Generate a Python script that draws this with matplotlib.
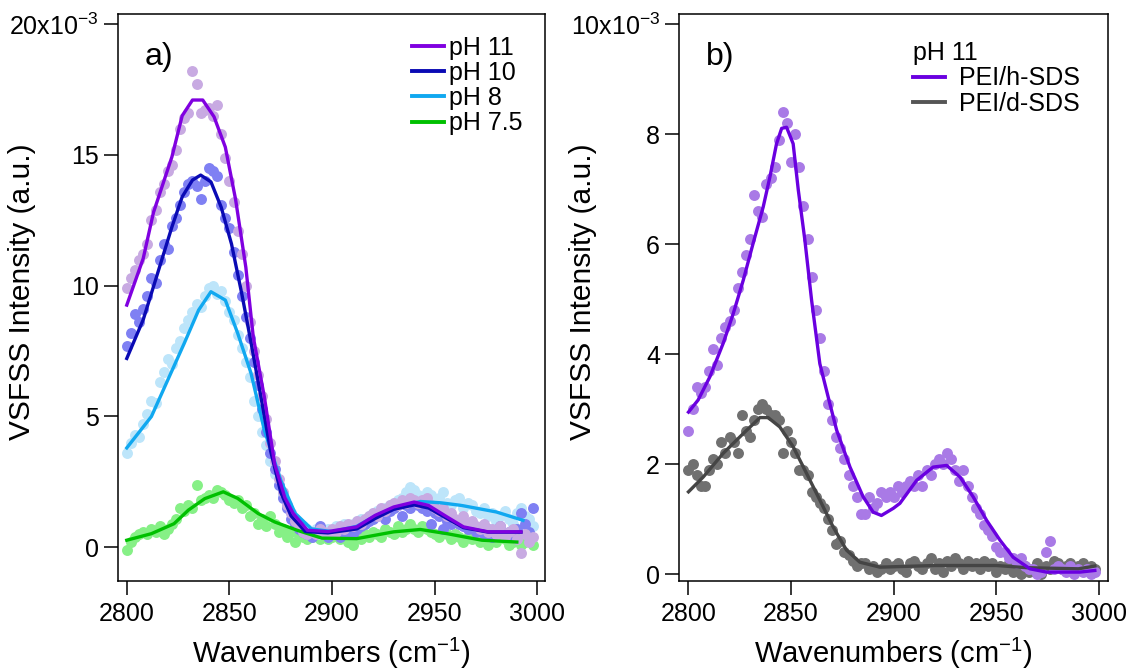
import matplotlib
matplotlib.use("Agg")
import matplotlib.pyplot as plt
import numpy as np
from matplotlib.ticker import FuncFormatter

plt.rcParams['font.family'] = ['Liberation Sans', 'DejaVu Sans']
plt.rcParams['mathtext.fontset'] = 'custom'
plt.rcParams['mathtext.rm'] = 'Liberation Sans'
plt.rcParams['mathtext.default'] = 'regular'

# intensities in units of 1e-3
wn = np.arange(2800, 3000, 2)

ph11_pts = [9.9, 10.3, 10.6, 11.0, 11.2, 11.6, 12.5, 12.9, 13.6, 13.9,
            14.4, 14.6, 15.2, 16.0, 16.4, 16.6, 18.2, 17.7, 16.6, 16.7,
            16.8, 16.5, 16.9, 15.8, 14.9, 14.0, 13.2, 12.1, 11.2, 10.0,
            8.6, 7.5, 6.6, 5.8, 4.9, 4.0, 3.3, 2.6, 2.1, 1.6,
            1.3, 1.0, 0.8, 0.6, 0.5, 0.6, 0.5, 0.7, 0.6, 0.5,
            0.7, 0.6, 0.8, 0.7, 0.9, 0.8, 1.0, 0.9, 1.1, 1.2,
            1.3, 1.2, 1.5, 1.4, 1.6, 1.7, 1.6, 1.8, 1.7, 1.9,
            1.8, 1.7, 1.8, 1.9, 1.6, 1.5, 1.4, 1.5, 1.2, 1.3,
            1.1, 1.0, 1.2, 0.9, 1.0, 0.8, 0.7, 0.9, 0.6, 0.7,
            0.5, 0.8, 0.4, 0.6, 0.7, 0.3, -0.2, 0.5, 0.2, 0.4]
ph10_pts = [7.7, 8.2, 8.9, 8.6, 9.1, 9.6, 10.3, 10.1, 11.0, 11.6,
            11.4, 12.3, 12.6, 13.1, 13.6, 13.9, 14.0, 13.8, 13.3, 14.0,
            14.5, 14.4, 14.2, 13.1, 12.6, 12.2, 11.3, 10.4, 9.6, 8.8,
            8.0, 7.1, 6.2, 5.3, 4.4, 3.6, 3.0, 2.4, 1.9, 1.5,
            1.1, 0.9, 0.7, 0.6, 0.5, 0.4, 0.6, 0.8, 0.5, 0.4,
            0.6, 0.5, 0.4, 0.7, 0.6, 0.5, 0.7, 0.8, 0.9, 1.0,
            1.1, 1.2, 1.3, 1.1, 1.4, 1.5, 1.6, 1.2, 1.6, 1.5,
            1.7, 1.6, 1.5, 1.4, 0.9, 1.3, 1.2, 0.7, 1.0, 0.9,
            1.0, 0.9, 0.8, 0.7, 0.8, 0.6, 0.7, 0.5, 0.7, 0.4,
            0.6, 0.8, 0.5, 0.6, 0.4, 0.7, 1.3, 0.9, 0.6, 1.5]
ph8_pts = [3.6, 4.0, 4.3, 4.2, 4.7, 5.1, 5.6, 5.5, 6.3, 6.7,
           7.2, 7.0, 7.6, 7.9, 8.4, 8.7, 9.0, 9.3, 9.2, 9.6,
           9.9, 10.0, 9.7, 9.8, 9.4, 9.0, 8.7, 8.1, 7.6, 7.1,
           6.5, 5.6, 5.0, 4.4, 3.9, 3.3, 2.8, 2.4, 2.0, 1.6,
           1.3, 1.1, 0.9, 0.8, 0.7, 0.6, 0.7, 0.5, 0.6, 0.7,
           0.6, 0.8, 0.7, 0.9, 0.8, 0.9, 1.0, 1.1, 1.0, 1.2,
           1.3, 1.4, 1.3, 1.5, 1.6, 1.7, 1.8, 1.9, 2.1, 2.3,
           2.2, 2.0, 1.9, 2.1, 2.0, 1.8, 1.9, 2.1, 1.7, 1.6,
           1.8, 1.9, 1.5, 1.7, 1.6, 1.4, 1.3, 1.5, 1.2, 1.3,
           1.0, 1.2, 1.4, 1.1, 0.9, 1.3, 1.5, 1.2, 1.1, 0.8]
ph75_pts = [-0.1, 0.2, 0.4, 0.5, 0.6, 0.5, 0.7, 0.6, 0.8, 0.5,
            0.7, 0.9, 1.1, 1.5, 1.4, 1.6, 1.5, 2.4, 1.8, 1.9,
            2.0, 1.9, 2.2, 2.1, 2.0, 1.8, 1.7, 1.8, 1.5, 1.6,
            1.2, 1.3, 0.9, 1.1, 0.8, 1.2, 0.9, 0.6, 0.7, 0.4,
            0.6, 0.2, 0.5, 0.4, 0.3, 0.4, 0.5, 0.3, 0.4, 0.3,
            0.4, 0.5, 0.3, 0.4, 0.2, 0.1, 0.4, 0.3, 0.5, 0.4,
            0.6, 0.5, 0.4, 0.7, 0.6, 0.5, 0.8, 0.6, 0.7, 0.9,
            0.7, 0.6, 0.8, 0.7, 0.6, 0.5, 0.4, 0.6, 0.5, 0.3,
            0.5, 0.4, 0.2, 0.4, 0.3, 0.4, 0.2, 0.3, 0.1, 0.3,
            0.2, 0.4, 0.3, 0.1, 0.2, 0.3, 0.1, 0.2, 0.3, 0.1]

# fitted curves, panel a
ph11_fx = [2800, 2808, 2813, 2822, 2827, 2832, 2837, 2842.5, 2848, 2853, 2858, 2861.6,
           2867, 2872, 2877, 2881, 2888, 2898, 2912, 2921, 2930, 2940, 2947, 2956, 2964, 2976, 2992]
ph11_fy = [9.26, 11.04, 12.8, 14.93, 16.5, 17.1, 17.1, 16.46, 15.3, 13.3, 10.7, 8.05,
           5.75, 3.2, 1.9, 1.3, 0.65, 0.6, 0.78, 1.22, 1.54, 1.73, 1.6, 1.16, 0.78, 0.59, 0.59]
ph10_fx = [2800, 2808, 2815, 2822, 2827, 2832, 2836, 2841, 2846, 2851, 2856, 2860, 2865,
           2870, 2875, 2880, 2887, 2898, 2912, 2921, 2930, 2940, 2947, 2956, 2964, 2976, 2992]
ph10_fy = [7.22, 8.7, 10.47, 12.25, 13.4, 14.04, 14.23, 13.97, 13.0, 11.6, 9.7, 8.05, 5.9,
           3.7, 2.1, 1.2, 0.6, 0.55, 0.7, 1.1, 1.45, 1.62, 1.5, 1.1, 0.75, 0.58, 0.58]
ph8_fx = [2800, 2805, 2812, 2820, 2828, 2835, 2841, 2848, 2854, 2860.5, 2867, 2875,
          2882, 2890, 2900, 2912, 2921, 2932, 2943, 2953, 2963, 2980, 2993]
ph8_fy = [3.8, 4.3, 5.0, 6.4, 7.8, 9.07, 9.77, 9.45, 8.19, 6.66, 4.48, 2.56,
          1.3, 0.7, 0.6, 0.8, 1.2, 1.55, 1.75, 1.7, 1.6, 1.35, 1.03]
ph75_fx = [2800, 2812, 2823, 2830, 2838, 2847, 2854, 2864, 2872, 2883, 2895, 2912,
           2930, 2943, 2956, 2973, 2990]
ph75_fy = [0.27, 0.52, 0.9, 1.42, 1.86, 2.12, 1.87, 1.29, 0.97, 0.65, 0.35, 0.33,
           0.59, 0.68, 0.52, 0.27, 0.2]

# panel b, pH 11
h_pts = [2.6, 3.0, 3.4, 3.3, 3.4, 3.7, 4.1, 3.8, 4.3, 4.5,
         4.6, 4.8, 5.2, 5.5, 5.8, 6.1, 6.9, 6.6, 6.5, 7.1,
         7.2, 7.4, 7.9, 8.4, 8.2, 7.5, 8.0, 7.4, 6.7, 6.1,
         5.4, 4.8, 4.3, 3.7, 3.1, 2.8, 2.5, 2.3, 2.1, 1.8,
         1.6, 1.4, 1.1, 1.1, 1.4, 1.2, 1.3, 1.5, 1.4, 1.5,
         1.4, 1.6, 1.5, 1.6, 1.7, 1.6, 1.8, 1.6, 1.9, 1.8,
         2.0, 2.1, 2.0, 2.2, 2.1, 1.9, 1.7, 1.9, 1.6, 1.4,
         1.2, 1.1, 0.9, 0.8, 0.7, 0.5, 0.4, 0.4, 0.3, 0.3,
         0.2, 0.3, 0.15, 0.1, 0.1, 0.0, 0.05, 0.4, 0.6, 0.1,
         0.15, 0.1, 0.05, 0.15, 0.0, 0.1, 0.05, 0.1, 0.0, 0.05]
d_pts = [1.9, 2.0, 1.8, 1.6, 1.6, 1.9, 2.1, 2.0, 2.4, 2.2,
         2.5, 2.4, 2.2, 2.9, 2.6, 2.5, 2.8, 3.0, 3.1, 3.0,
         2.9, 2.9, 2.8, 2.2, 2.6, 2.4, 2.2, 1.9, 1.9, 1.8,
         1.5, 1.4, 1.3, 1.2, 1.0, 0.8, 0.55, 0.6, 0.4, 0.35,
         0.25, 0.15, 0.2, 0.2, 0.1, 0.15, 0.05, 0.1, 0.2, 0.1,
         0.15, 0.2, 0.1, 0.05, 0.2, 0.25, 0.15, 0.1, 0.2, 0.3,
         0.1, 0.2, 0.05, 0.25, 0.15, 0.3, 0.2, 0.1, 0.25, 0.15,
         0.2, 0.1, 0.25, 0.15, 0.2, 0.05, 0.15, 0.1, 0.2, 0.05,
         0.1, 0.0, 0.15, 0.05, 0.1, 0.2, 0.0, 0.15, 0.1, 0.25,
         0.2, 0.1, 0.15, 0.2, 0.1, 0.15, 0.2, 0.1, 0.15, 0.1]
h_fx = [2800, 2804.7, 2810.4, 2816.9, 2821.8, 2826.7, 2831.5, 2836.4, 2839.7, 2842.9,
        2845.4, 2847.8, 2851, 2853.5, 2856.7, 2860, 2864, 2868.9, 2872.2, 2878.7,
        2885.1, 2890, 2894, 2899.8, 2903, 2911.2, 2919.2, 2925.8, 2932.3, 2938.7,
        2945.3, 2951.8, 2958.2, 2966.4, 2974.5, 2990.7, 2998]
h_fy = [2.95, 3.17, 3.59, 4.2, 4.74, 5.35, 6.02, 6.68, 7.23, 7.83,
        8.11, 8.13, 7.83, 6.99, 6.08, 4.98, 3.83, 3.1, 2.62, 1.95,
        1.41, 1.13, 1.07, 1.2, 1.29, 1.71, 1.95, 1.98, 1.77, 1.41,
        0.98, 0.62, 0.31, 0.1, 0.04, 0.04, 0.07]
d_fx = [2800, 2807.2, 2816.9, 2826.7, 2834.8, 2838.8, 2844.5, 2851, 2857.6, 2864,
        2870.5, 2877, 2883.5, 2893.3, 2920, 2950, 2965, 2990, 2998]
d_fy = [1.5, 1.77, 2.2, 2.56, 2.85, 2.85, 2.68, 2.32, 1.83, 1.35,
        0.86, 0.44, 0.22, 0.13, 0.16, 0.16, 0.12, 0.1, 0.15]

fig = plt.figure(figsize=(11.33, 6.72), dpi=100)
ax1 = fig.add_axes([0.1041, 0.1354, 0.3769, 0.8438])
ax2 = fig.add_axes([0.5997, 0.1354, 0.3782, 0.8438])

ms = 62
ax1.scatter(wn, ph75_pts, s=ms, color='#86F086', lw=0, zorder=2)
ax1.scatter(wn, ph8_pts, s=ms, color='#BDE5FA', lw=0, zorder=2)
ax1.scatter(wn, ph10_pts, s=ms, color='#7F80F3', lw=0, zorder=2)
ax1.scatter(wn, ph11_pts, s=ms, color='#C8AAE2', lw=0, zorder=2)
ax1.plot(ph75_fx, ph75_fy, color='#00C000', lw=2.4, zorder=3)
ax1.plot(ph8_fx, ph8_fy, color='#10A8F0', lw=2.4, zorder=3)
ax1.plot(ph10_fx, ph10_fy, color='#0A0AB4', lw=2.4, zorder=3)
ax1.plot(ph11_fx, ph11_fy, color='#8000E0', lw=2.4, zorder=3)

lh = [plt.Line2D([], [], color=c, lw=2.8) for c in ['#8000E0', '#0A0AB4', '#10A8F0', '#00C000']]
ax1.legend(lh, ['pH 11', 'pH 10', 'pH 8', 'pH 7.5'], loc='upper left',
           bbox_to_anchor=(0.6885, 0.962), frameon=False, fontsize=18,
           handlelength=1.3, handletextpad=0.2, labelspacing=0.05, borderpad=0,
           borderaxespad=0)

ax2.scatter(wn, d_pts, s=ms, color='#707070', lw=0, zorder=2)
ax2.scatter(wn, h_pts, s=ms, color='#A97AE6', lw=0, zorder=2)
ax2.plot(d_fx, d_fy, color='#454545', lw=2.4, zorder=3)
ax2.plot(h_fx, h_fy, color='#6A00E0', lw=2.4, zorder=3)

lh2 = [plt.Line2D([], [], color=c, lw=2.8) for c in ['#6A00E0', '#555555']]
ax2.legend(lh2, ['PEI/h-SDS', 'PEI/d-SDS'], loc='upper left', title='pH 11',
           title_fontsize=18, alignment='left',
           bbox_to_anchor=(0.545, 0.952), frameon=False, fontsize=18,
           handlelength=1.3, handletextpad=0.55, labelspacing=0.05, borderpad=0,
           borderaxespad=0)

ax1.text(0.063, 0.925, 'a)', transform=ax1.transAxes, fontsize=23, va='center', ha='left')
ax2.text(0.062, 0.925, 'b)', transform=ax2.transAxes, fontsize=23, va='center', ha='left')

def fmt_a(v, pos):
    if abs(v - 20) < 1e-6:
        return '20x10$^{-3}$'
    return '%g' % v

def fmt_b(v, pos):
    if abs(v - 10) < 1e-6:
        return '10x10$^{-3}$'
    return '%g' % v

ax1.set_xlim(2795.7, 3003.7)
ax1.set_ylim(-1.29, 20.39)
ax1.set_yticks([0, 5, 10, 15, 20])
ax1.yaxis.set_major_formatter(FuncFormatter(fmt_a))
ax2.set_xlim(2795.6, 3004.4)
ax2.set_ylim(-0.122, 10.19)
ax2.set_yticks([0, 2, 4, 6, 8, 10])
ax2.yaxis.set_major_formatter(FuncFormatter(fmt_b))

for ax in (ax1, ax2):
    ax.set_xticks([2800, 2850, 2900, 2950, 3000])
    ax.tick_params(direction='out', length=10, width=1.1, labelsize=18, pad=4)
    ax.tick_params(axis='x', pad=5)
    for sp in ax.spines.values():
        sp.set_linewidth(1.1)
    ax.set_xlabel('Wavenumbers (cm$^{-1}$)', fontsize=21)
    ax.set_ylabel('VSFSS Intensity (a.u.)', fontsize=21.5)
    ax.xaxis.set_label_coords(0.5, -0.097)
    ax.yaxis.set_label_coords(-0.193, 0.51)

fig.savefig('out.png', dpi=100)
